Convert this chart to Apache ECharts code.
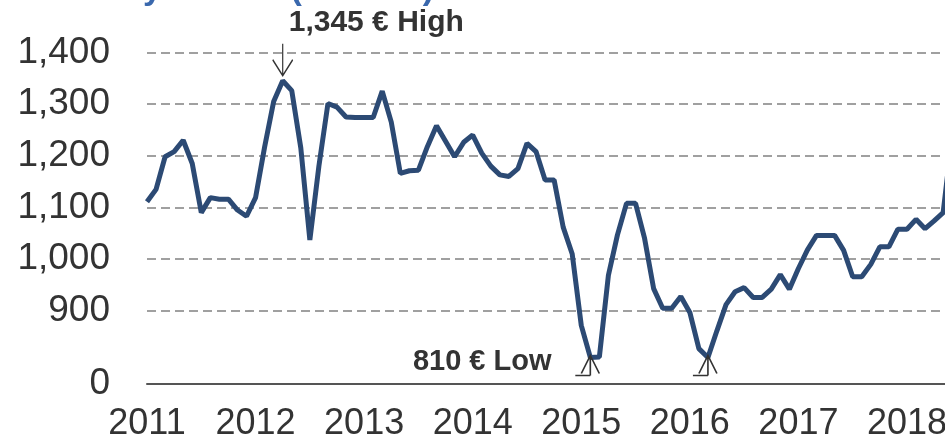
<!DOCTYPE html>
<html>
<head>
<meta charset="utf-8">
<script src="https://cdn.jsdelivr.net/npm/echarts@6/dist/echarts.min.js"></script>
<style>
  html, body { margin: 0; padding: 0; background: #fff; }
  #chart { width: 945px; height: 435px; }
</style>
</head>
<body>
<div id="chart"></div>
<script>
// monthly price, Jan 2011 .. Jun 2018
const years = ['2011', '2012', '2013', '2014', '2015', '2016', '2017', '2018'];
const prices = [
  1111, 1135, 1198, 1208, 1230, 1185, 1090, 1119, 1116, 1116, 1095, 1083, // 2011
  1119, 1217, 1305, 1345, 1326, 1215, 1037, 1180, 1301, 1294, 1275, 1274, // 2012
  1274, 1274, 1325, 1265, 1166, 1171, 1172, 1218, 1258, 1228, 1198, 1226, // 2013
  1240, 1205, 1180, 1163, 1160, 1175, 1224, 1208, 1153, 1153, 1062, 1010, // 2014
  872, 810, 811, 969, 1047, 1108, 1108, 1040, 943, 905, 905, 928,         // 2015
  897, 827, 810, 862, 912, 937, 945, 926, 926, 942, 970, 942,             // 2016
  982, 1018, 1046, 1046, 1046, 1017, 966, 966, 990, 1024, 1024, 1058,     // 2017
  1058, 1077, 1059, 1074, 1090, 1240,                                     // 2018
];
const yLabelValues = [760, 900, 1000, 1100, 1200, 1300, 1400];
const highIdx = 15;
const lowIdx = [49, 62];
const titleText = 'Commodity Market (€/tonne)';

const months = [];
years.forEach((y) => {
  for (let m = 1; m <= 12; m++) months.push(y + '-' + String(m).padStart(2, '0'));
});
const categories = months.slice(0, prices.length);

const font = '"Liberation Sans", Arial, sans-serif';
const fmt = (v) => v.toLocaleString('en-US');

const arrowDown = 'path://M10 0 L10 32 M0 16 L10 32 L20 16';
const arrowUp = 'path://M15 0 L15 20 M0 20 L15 20 M6 18 L15 0 L24 18';
const arrowStyle = { color: 'transparent', borderColor: '#333', borderWidth: 1.5 };
const noteLabel = { show: true, color: '#333', fontFamily: font, fontWeight: 'bold' };

const chart = echarts.init(document.getElementById('chart'));
chart.setOption({
  animation: false,
  backgroundColor: '#fff',
  title: {
    text: titleText,
    left: -30,
    top: -32,
    textStyle: { color: '#3a68ad', fontFamily: font, fontWeight: 'bold', fontSize: 34 },
  },
  grid: { left: 147, right: -7.2, top: 0.6, bottom: 51.7, outerBoundsMode: 'none', containLabel: false },
  xAxis: {
    type: 'category',
    data: categories,
    boundaryGap: false,
    axisLine: { lineStyle: { color: '#555', width: 2 } },
    axisTick: { show: false },
    axisLabel: {
      interval: 11,
      margin: 23,
      color: '#333',
      fontFamily: font,
      fontSize: 36,
      formatter: (v) => v.slice(0, 4),
    },
    splitLine: { show: false },
  },
  yAxis: {
    type: 'value',
    min: 760,
    max: 1500,
    axisLine: { show: false },
    axisTick: { show: false, customValues: yLabelValues },
    axisLabel: {
      customValues: yLabelValues,
      margin: 37,
      color: '#333',
      fontFamily: font,
      fontSize: 37,
      formatter: (v) => (v === 760 ? '0' : fmt(v)),
    },
    splitLine: { show: true, lineStyle: { color: '#a0a0a0', width: 2, type: [9, 5] } },
  },
  series: [
    {
      type: 'line',
      data: prices,
      showSymbol: false,
      lineStyle: { color: '#2c4a74', width: 5 },
      z: 3,
      markPoint: {
        silent: true,
        data: [
          {
            coord: [highIdx, prices[highIdx]],
            symbol: arrowDown,
            symbolSize: [20, 32],
            symbolOffset: [0, -21],
            itemStyle: arrowStyle,
            label: { ...noteLabel, fontSize: 30, position: 'top', align: 'left', offset: [6, 0], formatter: fmt(prices[highIdx]) + ' € High' },
          },
          {
            coord: [lowIdx[0], prices[lowIdx[0]]],
            symbol: arrowUp,
            symbolSize: [24, 20],
            symbolOffset: [-3, 8],
            itemStyle: arrowStyle,
            label: { ...noteLabel, fontSize: 29, position: 'left', distance: 23, offset: [0, -3], formatter: fmt(prices[lowIdx[0]]) + ' € Low' },
          },
          {
            coord: [lowIdx[1], prices[lowIdx[1]]],
            symbol: arrowUp,
            symbolSize: [24, 20],
            symbolOffset: [-3, 8],
            itemStyle: arrowStyle,
            label: { show: false },
          },
        ],
      },
    },
  ],
});
</script>
</body>
</html>
